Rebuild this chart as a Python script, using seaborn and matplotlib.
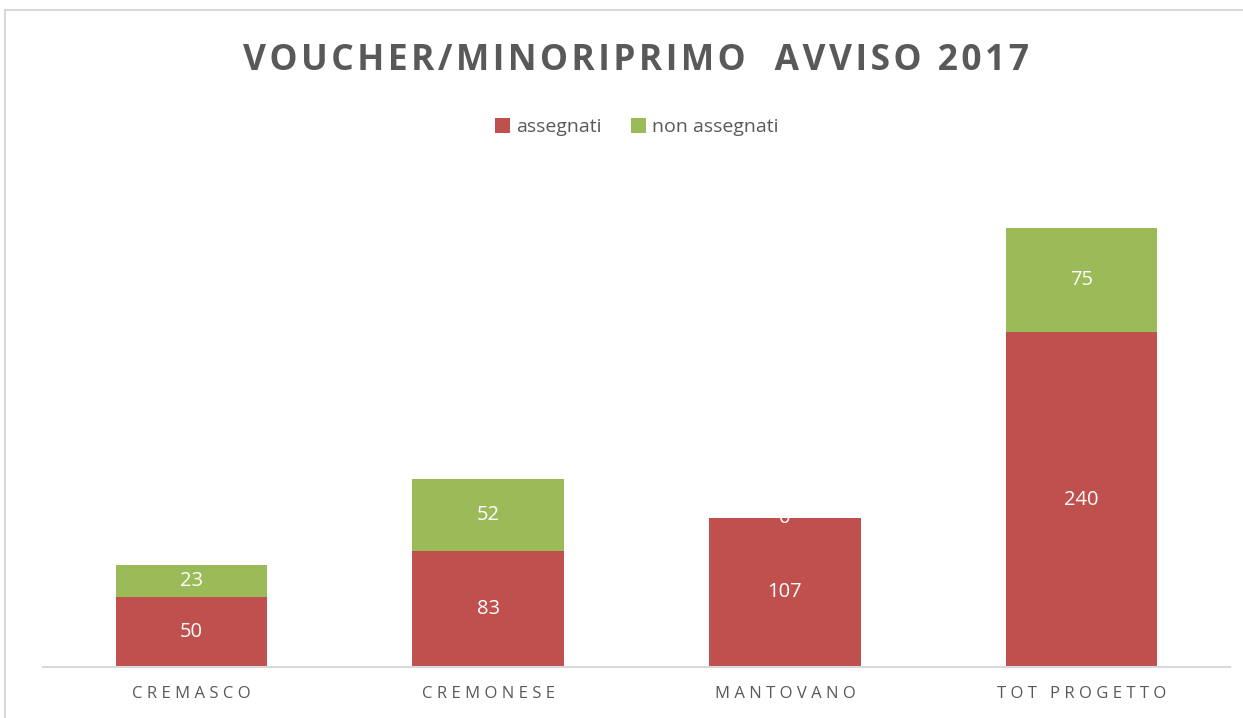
import pandas as pd
import numpy as np
import matplotlib
matplotlib.use("Agg")
import matplotlib.pyplot as plt
import seaborn as sns
from matplotlib.lines import Line2D

# dati
ambiti = ["CREMASCO", "CREMONESE", "MANTOVANO", "TOT PROGETTO"]
assegnati = [50, 83, 107, 240]
non_assegnati = [23, 52, 0, 75]

ROSSO = "#C0504D"
VERDE = "#9BBB59"
GRIGIO = "#595959"

df = pd.DataFrame({"ambito": ambiti, "assegnati": assegnati, "non_assegnati": non_assegnati})

sns.set_theme(style="white")
plt.rcParams["font.family"] = ["Open Sans", "DejaVu Sans"]


def spaziato(s, sep="\u200a"):
    return sep.join(list(s))


fig = plt.figure(figsize=(12.43, 7.18), dpi=100)
ax = fig.add_axes([0.0346, 0.071, 0.955, 0.6797])

sns.barplot(data=df, x="ambito", y="assegnati", color=ROSSO, width=0.51,
            saturation=1, ax=ax, label="assegnati", linewidth=0)
sns.barplot(data=df, x="ambito", y="non_assegnati", color=VERDE, width=0.51,
            saturation=1, ax=ax, bottom=df["assegnati"], label="non assegnati", linewidth=0)

# etichette dei valori
for i, (a, n) in enumerate(zip(assegnati, non_assegnati)):
    ax.text(i, a / 2, str(a), ha="center", va="center", color="white", fontsize=14.5)
    ax.text(i, a + n / 2, str(n), ha="center", va="center", color="white", fontsize=14.5)

ax.set_xlim(-0.5, 3.5)
ax.set_ylim(0, 350)
ax.set_xlabel("")
ax.set_ylabel("")
ax.set_yticks([])
ax.set_xticks(range(len(ambiti)))
ax.set_xticklabels([spaziato(s, "\u2009\u200a") for s in ambiti], color=GRIGIO, fontsize=12)
ax.tick_params(axis="x", length=0, pad=14)
for s in ["top", "right", "left"]:
    ax.spines[s].set_visible(False)
ax.spines["bottom"].set_color("#D9D9D9")
ax.spines["bottom"].set_linewidth(1.5)

# legenda
leg = ax.legend(loc="center", bbox_to_anchor=(0.5, (127 - 179) / -488 + 1.0), ncol=2,
                frameon=False, fontsize=14, handlelength=0.8, handleheight=0.8,
                handletextpad=0.3, columnspacing=1.5)
for t in leg.get_texts():
    t.set_color(GRIGIO)

# titolo
fig.text(0.512, 1 - 61 / 718, spaziato("VOUCHER/MINORIPRIMO  AVVISO 2017"), ha="center",
         va="center", fontsize=25.5, fontweight="bold", color=GRIGIO)

# cornice del grafico
fig.add_artist(Line2D([5 / 1243, 5 / 1243], [0, 1 - 10 / 718], color="#D9D9D9", lw=1.5))
fig.add_artist(Line2D([5 / 1243, 1], [1 - 10 / 718, 1 - 10 / 718], color="#D9D9D9", lw=1.5))

fig.savefig("out.png", dpi=100)
